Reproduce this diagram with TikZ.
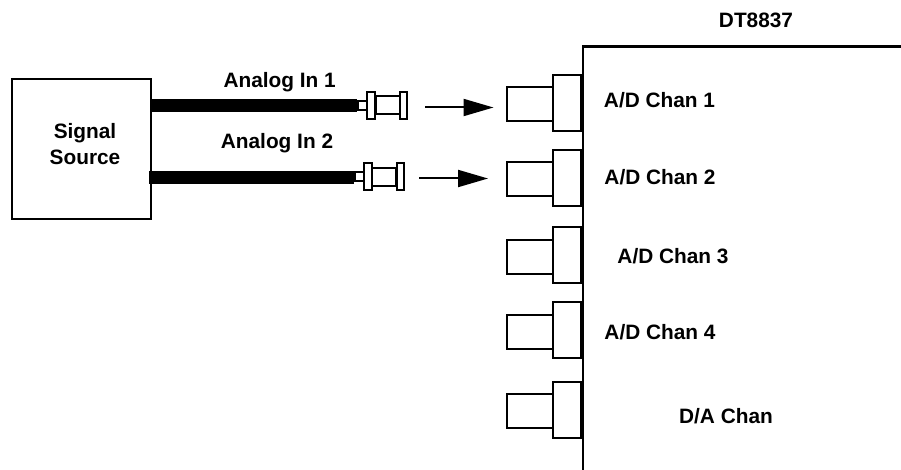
\documentclass[tikz,border=0pt]{standalone}
\usepackage{fontspec}
\setmainfont{Liberation Sans}
\usetikzlibrary{positioning, arrows.meta}

\tikzset{
	box/.style={draw,line width=2bp,inner sep=0pt,fill=white},
	label/.style={font=\fontsize{20.9}{26.7}\selectfont\bfseries,align=center,inner sep=0pt,anchor=base},
	cable/.style={line width=13.5bp},
	signal/.style={line width=2bp,-{Triangle[length=30bp,width=17bp]}},
}

\begin{document}
\begin{tikzpicture}[x=1bp,y=-1bp]
	\useasboundingbox (0,0) rectangle (901,470);
	
	%Board outline
	\coordinate (corner) at (583,46.5);
	\coordinate (topend) at (901,46.5);
	\coordinate (botend) at (583,470);
	\draw[line width=2.2bp] (topend) -- (corner) -- (botend);
	
	%Board ports
	\foreach \n/\fy/\py in {1/103/104, 2/178/179, 3/255.5/257, 4/330.5/332, 5/410/411} {
		\node[box,minimum width=46bp,minimum height=34.5bp] (plug\n) at (530,\py) {};
		\node[box,minimum width=28.5bp,minimum height=56bp] (flange\n) at (567,\fy) {};
	}
	
	%Source
	\node[box,minimum width=139bp,minimum height=140bp] (source) at (81.5,149) {};
	\node[label,anchor=center] (sourcetext) at (85,144) {Signal\\Source};
	
	%Cable connectors
	\foreach \n/\x/\y in {1/387.5/105.5, 2/384/177} {
		\node[box,minimum width=24bp,minimum height=18bp] (barrel\n) at (\x,\y) {};
		\node[box,minimum width=11bp,minimum height=9bp] (neck\n) [left=24bp of barrel\n.center, anchor=center] {};
		\node[box,minimum width=8bp,minimum height=27bp] (front\n) [left=3.5bp of barrel\n.west, anchor=center] {};
		\node[box,minimum width=7bp,minimum height=27bp] (rear\n) [right=3bp of barrel\n.east, anchor=center] {};
	}
	
	%Cables
	\draw[cable] (source.east |- neck1) -- (neck1.west);
	\coordinate (start2) at (149,177.5);
	\draw[cable] (start2) -- (neck2.west |- start2);
	
	%Insert arrows
	\coordinate (from1) at (425,107.5);
	\coordinate (to1) at (493.5,107.5);
	\coordinate (from2) at (419,178.5);
	\coordinate (to2) at (488,178.5);
	\draw[signal] (from1) -- (to1);
	\draw[signal] (from2) -- (to2);
	
	%Labels
	\node[label] (cable1) at (279.7,87.7) {Analog In 1};
	\node[label] (cable2) at (277,149) {Analog In 2};
	\node[label] (board) at (756,28) {DT8837};
	\node[label] (chan1) at (659.5,107.7) {A/D Chan 1};
	\node[label] (chan2) at (660,185) {A/D Chan 2};
	\node[label] (chan3) at (673,264) {A/D Chan 3};
	\node[label] (chan4) at (660,340) {A/D Chan 4};
	\node[label] (chan5) at (726,423) {D/A Chan};
	
\end{tikzpicture}
\end{document}
